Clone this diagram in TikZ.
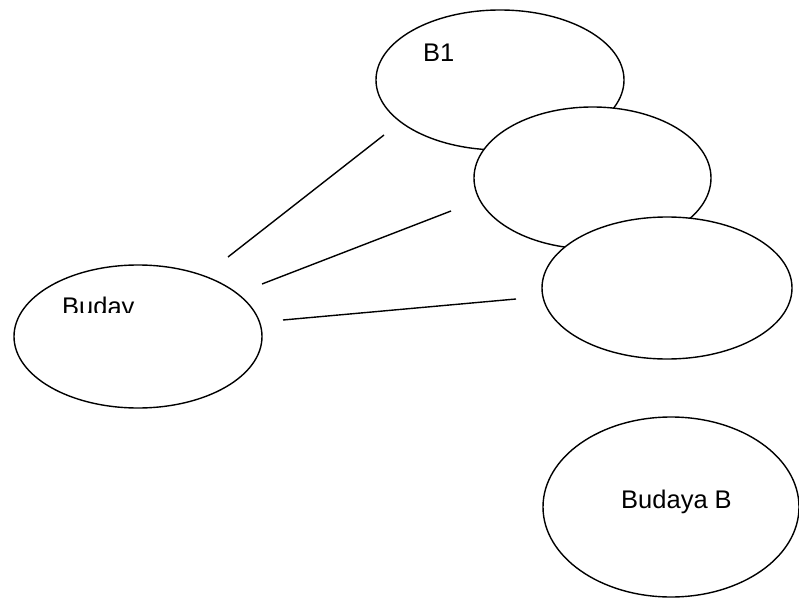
\documentclass[tikz,border=0pt]{standalone}
\usepackage{fontspec}
\setmainfont{Liberation Sans}
\usetikzlibrary{shapes.geometric}
\begin{document}
\begin{tikzpicture}[x=1bp,y=-1bp,
  oval/.style={ellipse,draw=black,fill=white,line width=1.4bp,inner sep=0pt},
  lbl/.style={anchor=base west,inner sep=0pt,font=\fontsize{25.5bp}{30bp}\selectfont},
  link/.style={line width=1.4bp}]
\useasboundingbox (0,0) rectangle (799,599);
% ellipses
\node[oval,minimum width=248bp,minimum height=140bp] (b1) at (500,80) {};
\node[oval,minimum width=237bp,minimum height=142bp] (b2) at (592.5,178) {};
\node[oval,minimum width=250bp,minimum height=142bp] (b3) at (667,288) {};
\node[oval,minimum width=248bp,minimum height=143bp] (bud) at (138,336.5) {};
\node[oval,minimum width=256bp,minimum height=180bp] (budb) at (671,507) {};
% texts
\node[lbl] (t1) at (423,62) {B1};
\node[lbl] (tb) at (621,508) {Budaya B};
\begin{scope}
\clip (50,280) rectangle (136,312);
\node[lbl] (ta) at (62,315) {Buday};
\end{scope}
% connectors
\coordinate (l1a) at (228,257); \coordinate (l1b) at (384,135);
\coordinate (l2a) at (262,284); \coordinate (l2b) at (451,211);
\coordinate (l3a) at (283,320); \coordinate (l3b) at (516,299);
\draw[link] (l1a) -- (l1b);
\draw[link] (l2a) -- (l2b);
\draw[link] (l3a) -- (l3b);
\end{tikzpicture}
\end{document}
